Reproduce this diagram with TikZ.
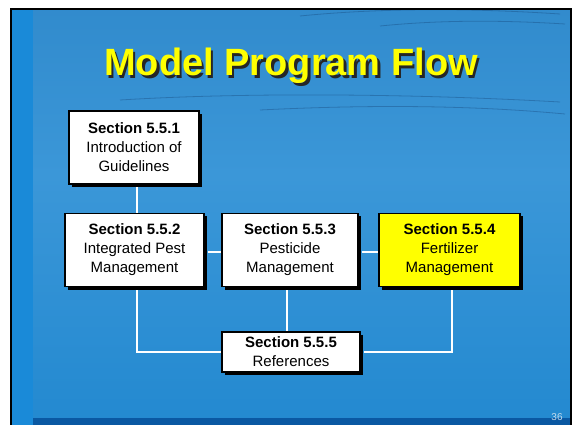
\documentclass[tikz,border=0pt]{standalone}
\usepackage{fontspec}
\setmainfont{Liberation Sans}
\usetikzlibrary{calc}
\definecolor{bgA}{HTML}{3A78BE}
\definecolor{bgB}{HTML}{2F88CA}
\definecolor{bgC}{HTML}{3B97D8}
\definecolor{bgD}{HTML}{2389D0}
\definecolor{bgE}{HTML}{0D6DB8}
\definecolor{stripc}{HTML}{1A8AD8}
\definecolor{bandc}{HTML}{0A58A2}
\definecolor{ripple}{HTML}{123E70}
\definecolor{titleyel}{HTML}{FFFF00}
\definecolor{boxyel}{HTML}{FFFF00}
\pgfdeclareverticalshading{slidebg}{100bp}{%
  color(0bp)=(bgE); color(25bp)=(bgD); color(55bp)=(bgC); color(80bp)=(bgB); color(100bp)=(bgA)}
\tikzset{
  secbox/.style={draw=black, line width=1.2pt, fill=white, minimum height=73pt,
    inner sep=0pt, align=center, font=\fontsize{15}{19}\selectfont},
  link/.style={draw=white, line width=1.6pt},
}
\begin{document}
\begin{tikzpicture}[x=1pt,y=-1pt]
\useasboundingbox (0,0) rectangle (578,425);
\fill[white] (0,0) rectangle (578,425);
% slide background
\shade[shading=slidebg] (11,9) rectangle (571,425);
\fill[stripc] (12,10) rectangle (33,425);
\fill[bandc] (33,418) rectangle (570,425);
% ripples
\begin{scope}[ripple, line width=0.8pt, opacity=0.35]
\draw (300,16) .. controls (380,8) and (470,8) .. (560,14);
\draw (380,26) .. controls (440,20) and (500,20) .. (565,24);
\draw (120,100) .. controls (250,92) and (420,94) .. (560,102);
\draw (260,110) .. controls (380,104) and (480,106) .. (565,114);
\end{scope}
\draw[black, line width=2pt] (11,425) -- (11,9) -- (571,9) -- (571,425);
% title
\node[text=black!85, font=\fontsize{38}{40}\selectfont\bfseries] at (293.5,68.5) {Model Program Flow};
\node[text=titleyel, font=\fontsize{38}{40}\selectfont\bfseries] (title) at (291,66) {Model Program Flow};
% boxes
\fill[black] (72,114) rectangle (202,187);
\node[secbox, minimum width=130pt] (b1) at (134,147.5) {\textbf{Section 5.5.1}\\Introduction of\\Guidelines};
\fill[black] (68,216) rectangle (207,290);
\node[secbox, minimum width=139pt] (b2) at (134.5,250) {\textbf{Section 5.5.2}\\Integrated Pest\\Management};
\fill[black] (225,216) rectangle (361,290);
\node[secbox, minimum width=136pt] (b3) at (290,250) {\textbf{Section 5.5.3}\\Pesticide\\Management};
\fill[black] (382,216) rectangle (523,290);
\node[secbox, minimum width=141pt, fill=boxyel] (b4) at (449.5,250) {\textbf{Section 5.5.4}\\Fertilizer\\Management};
\fill[black] (225,335) rectangle (363,375);
\node[secbox, minimum width=138pt, minimum height=40pt] (b5) at (291,352) {\textbf{Section 5.5.5}\\References};
% connectors
\coordinate (j1) at (137,187);
\coordinate (j2) at (137,213);
\draw[link] (j1) -- (j2);
\draw[link] ($(b2.east)+(3,2)$) -- ($(b3.west)+(0,2)$);
\draw[link] ($(b3.east)+(3,2)$) -- ($(b4.west)+(0,2)$);
\coordinate (k2) at (137,290);
\draw[link] (k2) |- (b5.west);
\coordinate (k3) at (287,290);
\draw[link] (k3) -- (k3 |- b5.north);
\coordinate (k4) at (452,290);
\draw[link] (k4) |- ($(b5.east)+(3,0)$);
% page number
\node[text=white!75!bgE, font=\fontsize{10}{11}\selectfont] (pg) at (557,417) {36};
\end{tikzpicture}
\end{document}
